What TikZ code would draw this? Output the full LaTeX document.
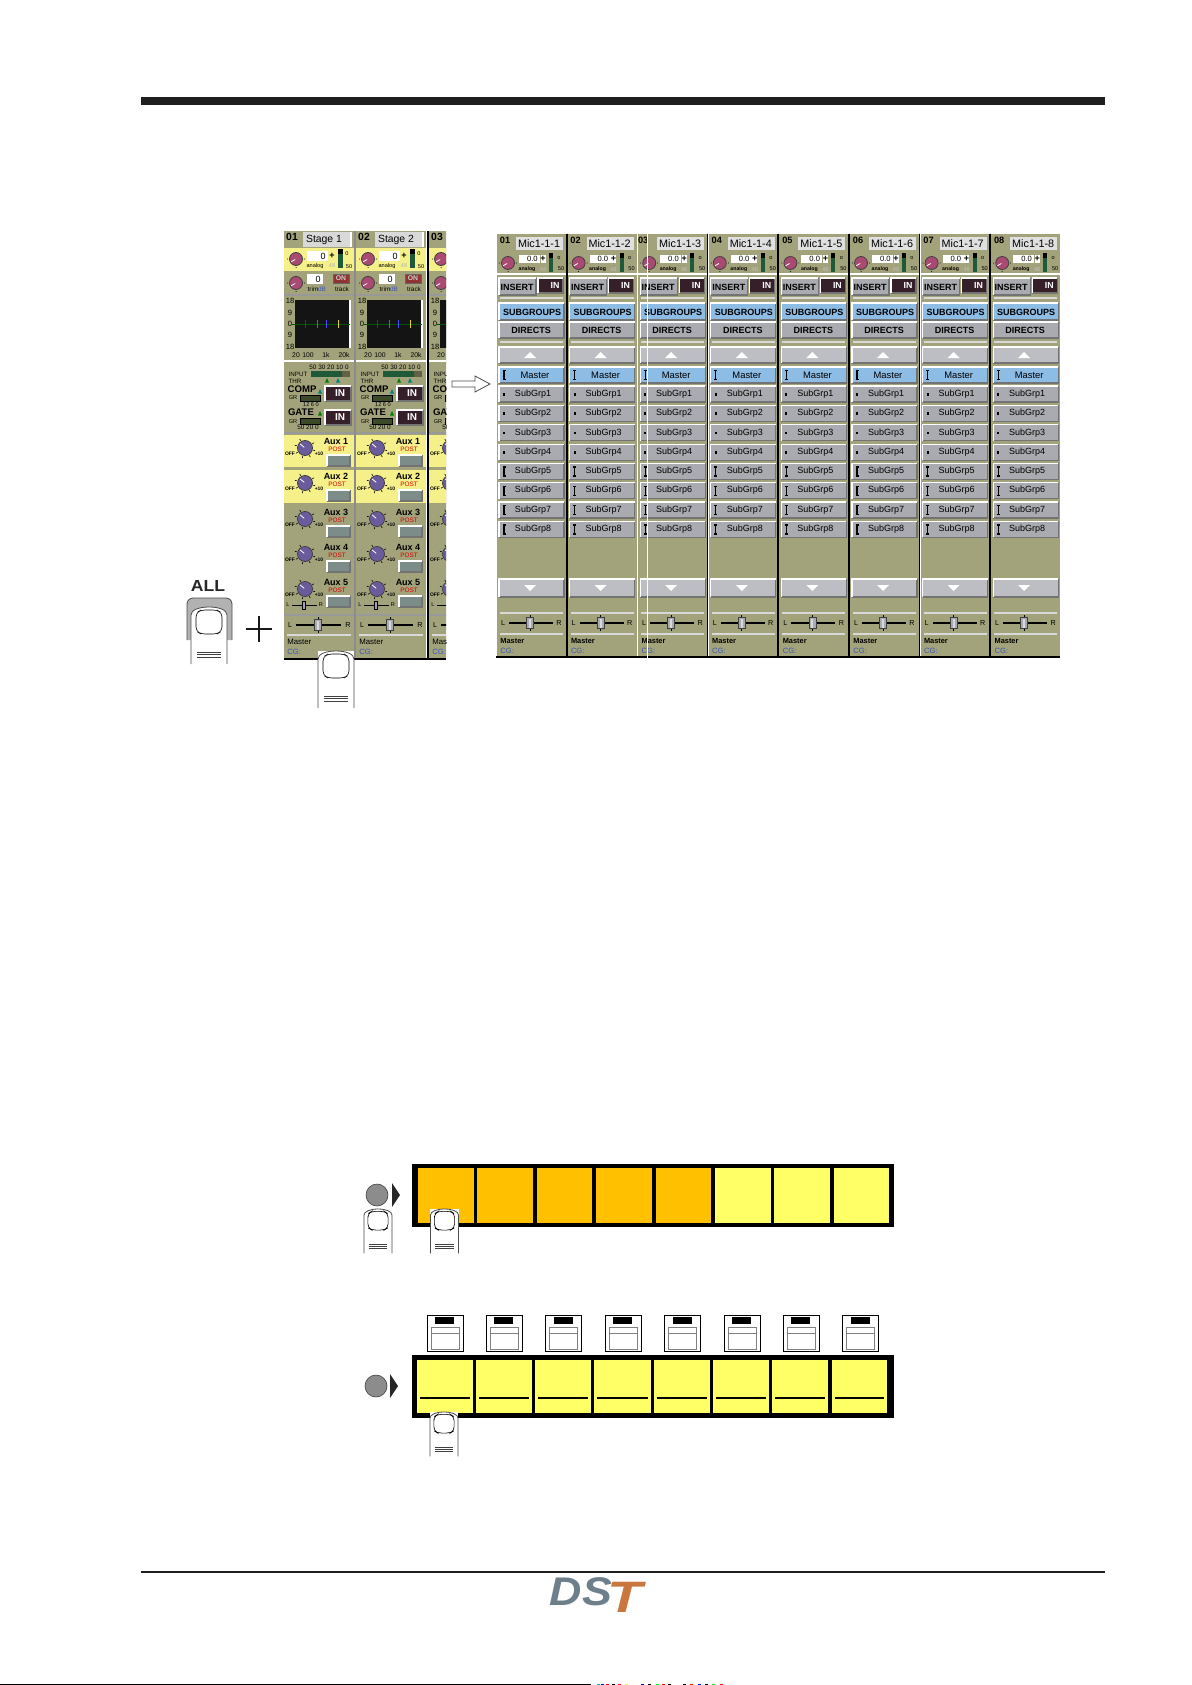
\documentclass[tikz,border=0pt]{standalone}
\usepackage{fontspec}
\setmainfont{Liberation Sans}
\definecolor{stripolive}{HTML}{A3A37B}
\definecolor{stripyellow}{HTML}{F6F08A}
\definecolor{btngray}{HTML}{A9ABB0}
\definecolor{btnlight}{HTML}{BDBEC3}
\definecolor{btnblue}{HTML}{8DBCE4}
\definecolor{auxgray}{HTML}{7C8C88}
\definecolor{indark}{HTML}{35202A}
\definecolor{knobred}{HTML}{A84A72}
\definecolor{knobblue}{HTML}{6A5C9C}
\definecolor{meterdark}{HTML}{1E5A38}
\definecolor{grdark}{HTML}{3C4A28}
\definecolor{cgblue}{HTML}{3A55B0}
\definecolor{keyorange}{HTML}{FFC000}
\definecolor{keyyellow}{HTML}{FFFF66}
\definecolor{logogray}{HTML}{6E7F8C}
\definecolor{logoorange}{HTML}{C9773F}
\newcommand{\fs}[1]{\fontsize{#1}{#1}\selectfont}
\newcommand{\fingershape}{
  \path[fill=white,draw=black!70,line width=.4pt] (-18,57) -- (-18,8)
    .. controls (-18,3) and (-10,0) .. (0,0) .. controls (10,0) and (18,3) .. (18,8) -- (18,57);
  \draw[black,line width=.3pt,rounded corners=2pt,fill=white] (-13,14) -- (-13,6) -- (-8,3) -- (8,3) -- (13,6) -- (13,24)
    -- (8,27) -- (-8,27) -- (-13,24) -- cycle;
  \draw[black!75,line width=.3pt] (-12,45) -- (12,45) (-12,47.5) -- (12,47.5) (-12,50) -- (12,50);
}
\tikzset{
  tag/.style={inner sep=0pt,font={\fs{4.5}}},
  tagbold/.style={inner sep=0pt,font={\fs{4.5}\bfseries}},
  tagtiny/.style={inner sep=0pt,font={\fs{2.8}}},
  tagin/.style={inner sep=0pt,text=white,font={\fs{5}\bfseries}},
  tagcg/.style={inner sep=0pt,anchor=west,text=cgblue,font={\fs{3.8}}},
  tagpost/.style={inner sep=0pt,text=red!85!black,font={\fs{3.2}}},
  hilite/.style={white,line width=.6pt},
  edgedark/.style={black!55,line width=.6pt},
  panelline/.style={white!85!black,line width=.6pt},
  finger/.pic={\fingershape},
  fingerbox/.pic={
    \fill[white] (-18,0) rectangle (18,57);
    \fingershape
  },
}
% raised button: x1,y1,x2,y2,colour
\newcommand{\panelbtn}[5]{
  \fill[#5] (#1,#2) rectangle (#3,#4);
  \draw[edgedark] (#3,#2) -- (#3,#4) -- (#1,#4);
  \draw[hilite] (#1,#4) -- (#1,#2) -- (#3,#2);
}
% aux knob: x,y,radius,colour
\newcommand{\knob}[4]{
  \foreach \a in {-30,15,60,105,150,195,240}
    \draw[black,line width=.3pt] (#1,#2) ++(\a:#3+1) -- ++(\a:2);
  \fill[#4,draw=black!75,line width=.4pt] (#1,#2) circle (#3);
  \draw[white,line width=.4pt] (#1,#2) ++(-140:1) -- ++(-140:#3-2);
}
% trim knob: x,y
\newcommand{\trimknob}[2]{
  \foreach \a in {0,90,180}
    \fill[black] (#1,#2) ++(\a:8.5) circle (.5);
  \fill[knobred,draw=black!75,line width=.4pt] (#1,#2) circle (6.5);
  \draw[white,line width=.4pt] (#1,#2) ++(150:1) -- ++(150:4.5);
}
% pan slider: x1,x2,y,thumb x
\newcommand{\panslider}[4]{
  \draw[black,line width=1.1pt] (#1,#3) -- (#2,#3);
  \draw[black,line width=.4pt] (#4,#3-8) -- (#4,#3+8);
  \fill[btngray,draw=black!75,line width=.4pt] (#4-3.5,#3-5.5) rectangle (#4+3.5,#3+5.5);
  \fill[white!85!black] (#4-1,#3-4.5) rectangle (#4+1,#3+4.5);
}
% level mark on a routing button: y
\newcommand{\tallmark}[1]{\draw[black,line width=.6pt] (5.5,#1-4.5) -- (8.5,#1-4.5) (7,#1-4.5) -- (7,#1+4.5) (5.5,#1+4.5) -- (8.5,#1+4.5);}
% left strip: x, number, name
\newcommand{\leftstrip}[3]{
  \begin{scope}[shift={(#1,0)},name prefix=l#2-]
    \fill[stripolive] (0,231) rectangle (70,658);
    \node[tagbold,font={\fs{5.2}\bfseries}] (num) at (8,237) {#2};
    \fill[white!85!black] (19,232) rectangle (67,247);
    \draw[hilite] (67,232) -- (67,247);
    \node[tag,font={\fs{5.2}}] (name) at (40,239.5) {#3};
    \fill[stripyellow] (0,248) rectangle (70,271);
    \trimknob{12}{259}
    \fill[white] (23,251) rectangle (44,261);
    \node[tag,anchor=east] (analogval) at (42,256) {0};
    \node[tagbold] (plus) at (48,256) {+};
    \fill[meterdark] (54,254) rectangle (59,268);
    \fill[black] (54,249) rectangle (59,254);
    \node[tagtiny] (meter0) at (63,254) {0};
    \node[tagtiny] (meter50) at (65,267) {50};
    \node[tagtiny] (analog) at (31,266) {analog};
    \node[tagtiny,text=black!30] (phantom) at (48,266) {48};
    \trimknob{12}{283}
    \fill[white] (23,274) rectangle (39,284);
    \node[tag,anchor=east] (trimval) at (37,279) {0};
    \fill[red!45!black!80,draw=black!60,line width=.3pt] (49,274) rectangle (65,283);
    \node[tagtiny,text=white!80!black,font={\fs{3.4}\bfseries}] (on) at (57,278.5) {ON};
    \node[tagtiny,font={\fs{3.2}}] (trim) at (29,289) {trim};
    \node[tagtiny,text=cgblue,font={\fs{3.2}}] (db) at (38,289) {dB};
    \node[tagtiny,font={\fs{3.2}}] (track) at (58,289) {track};
    \draw[white!60!black,line width=.6pt] (0,295) -- (70,295);
    % eq graph
    \fill[black!92] (11,300) rectangle (66,348);
    \draw[hilite] (66,300) -- (66,348);
    \draw[green!35!black,line width=.4pt] (8,324) -- (66,324);
    \foreach \x/\c in {21.3/red!80!black,33.3/green!70!black,42.3/blue!70,54.3/yellow!85!black}
      \draw[\c,line width=.5pt] (\x,320) -- (\x,328);
    \foreach \y/\t/\n in {301/18/a,313/9/b,324/0/c,335/9/d,347/18/e}
      \node[tagtiny,font={\fs{3.8}}] (db\n) at (6,\y) {\t};
    \foreach \x/\t/\n in {12/20/a,24/100/b,42/1k/c,60/20k/d}
      \node[tagtiny,font={\fs{3.4}}] (hz\n) at (\x,355) {\t};
    \draw[hilite] (0,361) -- (70,361);
    % dynamics
    \node[tagtiny,font={\fs{3.2}}] (scale) at (45,367) {50 30 20 10 0};
    \node[tagtiny,font={\fs{3.1}}] (input) at (14,374) {INPUT};
    \fill[meterdark] (27,371) rectangle (58,377);
    \fill[black!70!yellow] (58,371) rectangle (66,377);
    \node[tagtiny,font={\fs{3.1}}] (thr) at (11,381) {THR};
    \fill[green!50!black] (41,382.5) -- (43,378) -- (45,382.5) -- cycle;
    \fill[teal] (52,382.5) -- (54,378) -- (56,382.5) -- cycle;
    \node[tagbold,font={\fs{4.8}\bfseries}] (comp) at (18,389) {COMP};
    \fill[teal] (34,393.5) -- (36,389) -- (38,393.5) -- cycle;
    \panelbtn{41}{386}{67}{401}{indark}
    \node[tagin] (compin) at (56,393.5) {IN};
    \node[tagtiny] (gra) at (9,398) {GR};
    \fill[grdark,draw=black,line width=.3pt] (16,395) rectangle (36,401);
    \node[tagtiny] (grscale) at (27,404.5) {12 6 0};
    \node[tagbold,font={\fs{4.8}\bfseries}] (gate) at (17,412) {GATE};
    \fill[green!50!black] (34,415.5) -- (36,411) -- (38,415.5) -- cycle;
    \panelbtn{41}{410}{67}{425}{indark}
    \node[tagin] (gatein) at (56,417.5) {IN};
    \node[tagtiny] (grb) at (9,422) {GR};
    \fill[grdark,draw=black,line width=.3pt] (16,418) rectangle (36,424);
    \node[tagtiny,font={\fs{3.2}}] (gatescale) at (24,427.5) {50 20 0};
    \draw[white!60!black,line width=.6pt] (0,433) -- (70,433);
    % aux sends
    \fill[stripyellow] (0,435) rectangle (70,467);
    \fill[stripyellow] (0,470) rectangle (70,503);
    \foreach \n/\ky in {1/448,2/483,3/519,4/554,5/589} {
      \knob{21}{\ky}{7.5}{knobblue}
      \node[tagtiny,font={\fs{2.5}\bfseries}] (off\n) at (6,\ky+6) {OFF};
      \node[tagtiny,font={\fs{2.5}\bfseries}] (ten\n) at (35,\ky+6) {+10};
      \node[tagbold] (aux\n) at (52,\ky-7) {Aux \n};
      \node[tagpost] (post\n) at (53,\ky+1) {POST};
      \panelbtn{43}{\ky+7}{66}{\ky+18}{auxgray}
    }
    \node[tagtiny] (auxl) at (4,605) {L};
    \node[tagtiny] (auxr) at (37,605) {R};
    \draw[black,line width=.4pt] (8,605) -- (33,605);
    \fill[knobblue!60!white,draw=black,line width=.3pt] (18.5,601) rectangle (21.5,609);
    \draw[white!60!black,line width=.6pt] (0,615) -- (70,615);
    \node[tag,font={\fs{3.6}}] (panl) at (6,625) {L};
    \node[tag,font={\fs{3.6}}] (panr) at (64,625) {R};
    \panslider{12}{57}{625}{34}
    \draw[panelline] (3,635) -- (67,635);
    \node[tag,anchor=west,font={\fs{3.9}}] (master) at (3,642) {Master};
    \node[tagcg] (cg) at (3,652) {CG:};
  \end{scope}
}
% right strip: x, number, name, number x
\newcommand{\rightstrip}[4]{
  \begin{scope}[shift={(#1,0)},name prefix=r#2-]
    \fill[stripolive] (0,234) rectangle (69,656);
    \node[tagbold,font={\fs{4.6}\bfseries}] (num) at (#4,240) {#2};
    \fill[white!88!black] (19,237) rectangle (66,250);
    \node[tag,font={\fs{5.4}}] (name) at (42,243.5) {#3};
    \trimknob{11}{263}
    \fill[white] (22,255) rectangle (43,263);
    \node[tag,anchor=east,font={\fs{3.8}}] (val) at (41,259) {0.0};
    \fill[white] (43.5,255) rectangle (48.5,263);
    \node[tagbold] (plus) at (46,259) {+};
    \fill[meterdark] (52,258) rectangle (56,272);
    \fill[black] (52,253) rectangle (56,258);
    \node[tagtiny] (zero) at (62,258) {o};
    \node[tagtiny] (fifty) at (64,269) {50};
    \node[tagtiny,font={\fs{2.6}\bfseries}] (analog) at (30,269.5) {analog};
    \node[tagtiny,text=black!25] (phantom) at (46,269.5) {48};
    \draw[hilite] (0,274) -- (69,274);
    \panelbtn{2}{278}{39}{295}{btngray}
    \node[tagbold] (insert) at (20,287) {INSERT};
    \panelbtn{41}{278}{66}{293}{indark}
    \node[tagin,font={\fs{4.4}\bfseries}] (in) at (58,285) {IN};
    \draw[panelline] (3,298) -- (66,298);
    \panelbtn{2}{303}{67}{320}{btnblue}
    \node[tagbold] (subgroups) at (35,312) {SUBGROUPS};
    \panelbtn{2}{322}{67}{338}{btngray}
    \node[tagbold] (directs) at (34,330.5) {DIRECTS};
    \draw[panelline] (3,342) -- (66,342);
    \panelbtn{2}{347}{67}{363}{btnlight}
    \fill[white] (27,358) -- (33,352) -- (39,358) -- cycle;
    \panelbtn{2}{367}{67}{383}{btnblue}
    \tallmark{375}
    \node[tag,font={\fs{4.7}}] (master) at (38,375.5) {Master};
    \foreach \n/\by in {1/386,2/405.4,3/424.8,4/444.2} {
      \panelbtn{2}{\by}{67}{\by+16}{btngray}
      \fill[black] (6,\by+7) rectangle (8,\by+9.5);
      \node[tag] (sub\n) at (36,\by+8) {SubGrp\n};
    }
    \foreach \n/\by in {5/463.4,6/482.6,7/502,8/521.4} {
      \panelbtn{2}{\by}{67}{\by+16}{btngray}
      \tallmark{\by+8}
      \node[tag] (sub\n) at (36,\by+8) {SubGrp\n};
    }
    \panelbtn{2}{579}{67}{597}{btnlight}
    \fill[white] (27,585) -- (33,591) -- (39,585) -- cycle;
    \draw[panelline] (3,613) -- (66,613);
    \node[tag,font={\fs{3.6}}] (panl) at (6,623) {L};
    \node[tag,font={\fs{3.6}}] (panr) at (62,623) {R};
    \panslider{12}{56}{623}{33}
    \draw[panelline] (3,634) -- (66,634);
    \node[tag,anchor=west,font={\fs{3.7}\bfseries}] (mastersm) at (3,640.5) {Master};
    \node[tagcg] (cg) at (3,650.5) {CG:};
  \end{scope}
}
\begin{document}
\begin{tikzpicture}[x=0.5pt,y=-0.5pt]
  \useasboundingbox (0,0) rectangle (1191,1685);
  \fill[black!88] (141,97) rectangle (1105,105);
  \draw[black!88,line width=1pt] (141,1572) -- (1105,1572);
  % left panel
  \leftstrip{284}{01}{Stage 1}
  \leftstrip{356}{02}{Stage 2}
  \begin{scope}
    \clip (428,231) rectangle (446,660);
    \leftstrip{429}{03}{Stage 3}
  \end{scope}
  \draw[white!55!black,line width=.8pt] (355,231) -- (355,658);
  \draw[black,line width=.8pt] (428,231) -- (428,658);
  \draw[black,line width=1pt] (284,659) -- (446,659);
  % all key and strip finger
  \node[inner sep=0pt,xscale=1.1,font={\fs{8}\bfseries},text=black!85] (allkey) at (208,586) {ALL};
  \path[fill=black!30,draw=black!70,line width=.4pt,rounded corners=3pt] (187,640) -- (187,598) -- (232,598) -- (232,640);
  \pic at (209,607) {finger};
  \draw[black!90,line width=.6pt] (246,629) -- (272,629) (259,616) -- (259,642);
  \pic at (336,651) {fingerbox};
  % arrow between panels
  \path[draw=black!70,fill=white,line width=.4pt] (452,381) -- (475,381) -- (475,376) -- (490,384) -- (475,392) -- (475,387) -- (452,387) -- cycle;
  % right panel
  \foreach \n/\x/\nx in {1/497/8,2/567.6/8,3/638.2/5,4/708.8/8,5/779.4/8,6/850/8,7/920.6/8,8/991.2/8}
    \rightstrip{\x}{0\n}{Mic1-1-\n}{\nx}
  \foreach \x in {567,707.5,778,849,919.5,990}
    \draw[black,line width=.7pt] (\x,234) -- (\x,656);
  \draw[white,line width=.7pt] (637.5,234) -- (637.5,656);
  \draw[black,line width=.7pt] (496,657) -- (1060,657);
  \draw[white,line width=.5pt] (647,234) -- (647,660);
  % first key row
  \fill[black] (412,1164) rectangle (894,1227);
  \foreach \i/\c in {0/keyorange,1/keyorange,2/keyorange,3/keyorange,4/keyorange,5/keyyellow,6/keyyellow,7/keyyellow}
    \fill[\c] ({418+59.4*\i},1168) rectangle ({473.5+59.4*\i},1223);
  \fill[black!45,draw=black!75,line width=.3pt] (377,1195) circle (11);
  \fill[black!85] (392,1183) -- (400,1195) -- (392,1207) -- cycle;
  \pic[scale=.78] at (378,1209) {finger};
  \pic[scale=.78] at (444.5,1209) {fingerbox};
  % second key row
  \foreach \i in {0,...,7} {
    \draw[black,line width=.4pt] ({427+59.4*\i},1315) rectangle ({463+59.4*\i},1351);
    \fill[black] ({435+59.4*\i},1317) rectangle ({454+59.4*\i},1324);
    \draw[black!50,line width=.4pt] ({431+59.4*\i},1349) rectangle ({459+59.4*\i},1327) ({431+59.4*\i},1333) -- ({459+59.4*\i},1333);
  }
  \fill[black] (412,1355) rectangle (894,1418);
  \foreach \i in {0,...,7} {
    \fill[keyyellow] ({416.5+59.3*\i},1360) rectangle ({473+59.2*\i},1413);
    \draw[black,line width=.9pt] ({419.5+59.3*\i},1398) -- ({470+59.2*\i},1398);
  }
  \fill[black!45,draw=black!75,line width=.3pt] (376,1386) circle (11);
  \fill[black!85] (390,1374) -- (398,1386) -- (390,1398) -- cycle;
  \pic[scale=.78] at (444,1412) {fingerbox};
  % logo
  \node[inner sep=0pt,text=logogray,xscale=1.12,font={\fs{20}\bfseries\itshape}] (logods) at (581,1592) {DS};
  \node[inner sep=0pt,text=logoorange,xscale=1.3,font={\fs{22}\bfseries\itshape}] (logot) at (625,1597) {T};
  % page edge
  \draw[black,line width=.75pt] (0,1684.3) -- (591,1684.3);
  \foreach \x/\c in {597/cyan,601/blue,606/red,612/black,618/red,625/yellow,641/blue,648/black,656/green,662/red,668/black,683/black,690/red,698/blue,705/black,712/green,720/red}
    \fill[\c] (\x,1683.5) rectangle (\x+3,1685);
\end{tikzpicture}
\end{document}
